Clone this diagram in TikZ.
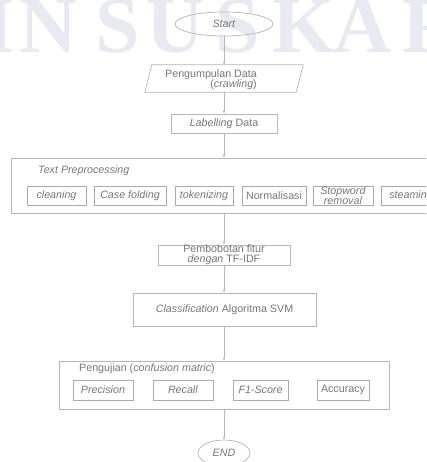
\documentclass[tikz,border=0pt]{standalone}
\usepackage{fontspec}
\setmainfont{Liberation Sans}
\newfontfamily\wmfont{Liberation Serif}
\usetikzlibrary{shapes.geometric,arrows.meta}
\definecolor{linegray}{RGB}{182,182,182}
\definecolor{boxgray}{RGB}{170,170,170}
\definecolor{txtgray}{RGB}{118,118,118}
\definecolor{wm}{RGB}{233,233,242}
\begin{document}
\begin{tikzpicture}[x=1pt,y=-1pt,
  font=\fontsize{10.7}{10.2}\selectfont, text=txtgray,
  box/.style={draw=linegray, line width=0.7pt, rectangle, inner sep=0pt, align=center},
  sub/.style={draw=boxgray, line width=0.7pt, rectangle, inner sep=0pt, minimum height=19pt, align=center},
  term/.style={draw=linegray, line width=0.7pt, ellipse, inner sep=0pt},
  wmletter/.style={anchor=base west, inner sep=0pt, text=wm, font=\wmfont\bfseries\fontsize{80}{80}\selectfont},
  arr/.style={draw=linegray, line width=0.7pt, -{Latex[length=3pt,width=2.6pt]}}]
\useasboundingbox (0,0) rectangle (426,462);
\clip (0,0) rectangle (426,462);
% watermark
\node[wmletter] (w0) at (-75,53) {U};
\node[wmletter] (w1) at (-17,53) {I};
\node[wmletter] (w2) at (19,53) {N};
\node[wmletter] (w3) at (95,53) {S};
\node[wmletter] (w4) at (146,53) {U};
\node[wmletter] (w5) at (215,53) {S};
\node[wmletter] (w6) at (272,53) {K};
\node[wmletter] (w7) at (333,53) {A};
\node[wmletter] (w8) at (402,53) {R};
% start
\node[term, minimum width=98pt, minimum height=24pt] (start) at (224,24) {\textit{Start}};
% data collection (parallelogram)
\node[minimum width=151pt, minimum height=27pt, inner sep=0pt] (pd) at (224,78.5) {};
\draw[linegray, line width=0.7pt] ([xshift=3.5pt]pd.north west) -- ([xshift=3.5pt]pd.north east)
  -- ([xshift=-3.5pt]pd.south east) -- ([xshift=-3.5pt]pd.south west) -- cycle;
\node[anchor=east, align=right, inner sep=0pt] (pdtext) at (257,79.5) {Pengumpulan Data\\(\textit{crawling})\hspace{4pt}};
% labelling
\node[box, minimum width=106pt, minimum height=19pt] (lab) at (224,123.5) {\textit{Labelling} Data};
% preprocessing
\node[box, minimum width=421pt, minimum height=55pt] (pre) at (221.5,185.5) {};
\node[anchor=west, inner sep=0pt] (pretitle) at (38,171) {\textit{Text Preprocessing}};
\node[sub, minimum width=59pt] (clean) at (56.5,195.5) {\textit{cleaning}};
\node[sub, minimum width=72pt] (case) at (130,195.5) {\textit{Case folding}};
\node[sub, minimum width=58pt] (tok) at (204,195.5) {\textit{tokenizing}};
\node[sub, minimum width=64pt] (norm) at (274,195.5) {Normalisasi};
\node[sub, minimum width=60pt] (stop) at (343,195.5) {\textit{Stopword}\\\textit{removal}};
\node[sub, minimum width=60pt] (steam) at (411,195.5) {\textit{steaming}};
% tf-idf
\node[box, minimum width=132pt, minimum height=18pt] (tfidf) at (224,255) {Pembobotan fitur\\\textit{dengan} TF-IDF};
% classification
\node[box, minimum width=183pt, minimum height=33pt] (svm) at (224.5,309.5) {\textit{Classification} Algoritma SVM};
% testing
\node[box, minimum width=330pt, minimum height=48pt] (uji) at (224,385) {};
\node[anchor=west, inner sep=0pt] (ujititle) at (79,369) {Pengujian (\textit{confusion matric})};
\node[sub, minimum width=60pt, minimum height=20pt] (prec) at (103,390) {\textit{Precision}};
\node[sub, minimum width=60pt, minimum height=20pt] (rec) at (183,390) {\textit{Recall}};
\node[sub, minimum width=55pt, minimum height=20pt] (f1) at (260.5,390) {\textit{F1-Score}};
\node[sub, minimum width=52pt, minimum height=20pt] (acc) at (343,390) {Accuracy};
% end
\node[term, minimum width=52pt, minimum height=26pt] (end) at (224,453) {\textit{END}};
% connectors
\draw[arr] (start.south) -- (pd.north);
\draw[arr] (pd.south) -- (lab.north);
\draw[arr] (lab.south) -- (lab.south |- pre.north);
\draw[arr] (pre.south -| tfidf.north) -- (tfidf.north);
\draw[arr] (tfidf.south) -- (tfidf.south |- svm.north);
\draw[arr] (svm.south -| uji.north) -- (uji.north);
\draw[arr] (uji.south) -- (end.north);
\end{tikzpicture}
\end{document}
